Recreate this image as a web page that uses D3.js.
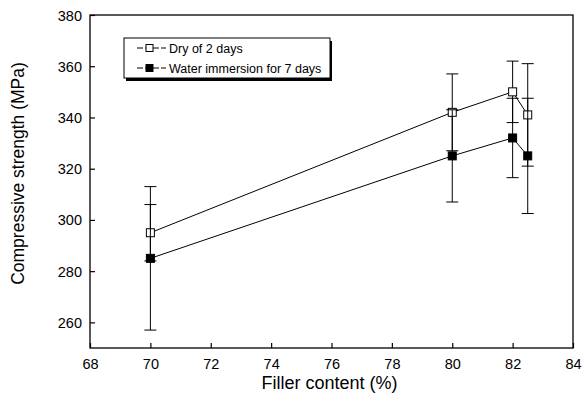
<!DOCTYPE html>
<html>
<head>
<meta charset="utf-8">
<script src="https://cdn.jsdelivr.net/npm/d3@7"></script>
<style>
  body { margin: 0; background: #fff; }
  svg { display: block; font-family: "Liberation Sans", Arial, sans-serif; }
</style>
</head>
<body>
<svg id="chart" width="584" height="405"></svg>
<script>
// Druckfestigkeit vs. Füllstoffgehalt, zwei Lagerungsarten
const width = 584, height = 405;
const margin = { top: 15, right: 11, bottom: 57, left: 90 };
const innerWidth  = width  - margin.left - margin.right;
const innerHeight = height - margin.top  - margin.bottom;

const filler = [70, 80, 82, 82.5];
const dryValues   = [295, 342, 350, 341];
const dryErrors   = [11, 15, 12, 20];
const waterValues = [285, 325, 332, 325];
const waterErrors = [28, 18, 15.5, 22.5];
const xTicks = [68, 70, 72, 74, 76, 78, 80, 82, 84];
const yTicks = [260, 280, 300, 320, 340, 360, 380];

const series = [
  { name: "Dry of 2 days", values: dryValues, errors: dryErrors, fill: "#fff" },
  { name: "Water immersion for 7 days", values: waterValues, errors: waterErrors, fill: "#000" }
];

const svg = d3.select("#chart");
const g = svg.append("g")
  .attr("transform", `translate(${margin.left},${margin.top})`);

const x = d3.scaleLinear().domain([68, 84]).range([0, innerWidth]);
const y = d3.scaleLinear().domain([250, 380]).range([innerHeight, 0]);

// Rahmen
g.append("rect")
  .attr("width", innerWidth).attr("height", innerHeight)
  .attr("fill", "none").attr("stroke", "#000").attr("stroke-width", 1.3);

const xAxisG = g.append("g")
  .attr("transform", `translate(0,${innerHeight})`)
  .call(d3.axisBottom(x).tickValues(xTicks).tickSize(-5));
const yAxisG = g.append("g")
  .call(d3.axisLeft(y).tickValues(yTicks).tickSize(-5));

[xAxisG, yAxisG].forEach(a => {
  a.select(".domain").remove();
  a.selectAll("line").attr("stroke", "#000").attr("stroke-width", 1.2);
  a.selectAll("text").attr("font-size", 14.5).attr("fill", "#000");
});
xAxisG.selectAll("text").attr("dy", null).attr("y", 21);
yAxisG.selectAll("text").attr("dy", null).attr("x", -8).attr("y", 5);

// Achsentitel
svg.append("text")
  .attr("x", margin.left + innerWidth / 2 - 2).attr("y", 389)
  .attr("text-anchor", "middle").attr("font-size", 18)
  .text("Filler content (%)");
svg.append("text")
  .attr("transform", `translate(24,${margin.top + innerHeight / 2 - 8}) rotate(-90)`)
  .attr("text-anchor", "middle").attr("font-size", 17.5)
  .text("Compressive strength (MPa)");

const cap = 6, ms = 8;

series.forEach(s => {
  const pts = filler.map((f, i) => ({ f, v: s.values[i], e: s.errors[i] }));

  const eb = g.append("g").selectAll("g").data(pts).join("g");
  eb.append("line")
    .attr("x1", d => x(d.f)).attr("x2", d => x(d.f))
    .attr("y1", d => y(d.v + d.e)).attr("y2", d => y(d.v - d.e))
    .attr("stroke", "#000").attr("stroke-width", 1);
  [1, -1].forEach(sign => {
    eb.append("line")
      .attr("x1", d => x(d.f) - cap).attr("x2", d => x(d.f) + cap)
      .attr("y1", d => y(d.v + sign * d.e)).attr("y2", d => y(d.v + sign * d.e))
      .attr("stroke", "#000").attr("stroke-width", 1);
  });

  g.append("path")
    .datum(pts)
    .attr("fill", "none").attr("stroke", "#000").attr("stroke-width", 1)
    .attr("d", d3.line().x(d => x(d.f)).y(d => y(d.v)));

  g.append("g").selectAll("rect").data(pts).join("rect")
    .attr("x", d => x(d.f) - ms / 2).attr("y", d => y(d.v) - ms / 2)
    .attr("width", ms).attr("height", ms)
    .attr("fill", s.fill).attr("stroke", "#000").attr("stroke-width", 1);
});

// Legende mit Schatten
const lg = svg.append("g").attr("transform", "translate(124,38)");
lg.append("rect").attr("x", 2).attr("y", 3).attr("width", 206).attr("height", 40).attr("fill", "#000");
lg.append("rect").attr("width", 206).attr("height", 40)
  .attr("fill", "#fff").attr("stroke", "#000").attr("stroke-width", 1);

series.forEach((s, i) => {
  const row = lg.append("g").attr("transform", `translate(0,${10 + i * 20})`);
  row.append("line").attr("x1", 13).attr("x2", 42).attr("stroke", "#000").attr("stroke-width", 1)
    .attr("stroke-dasharray", "6,2");
  row.append("rect").attr("x", 22).attr("y", -3.5).attr("width", 7).attr("height", 7)
    .attr("fill", s.fill).attr("stroke", "#000");
  row.append("text").attr("x", 45).attr("y", 4.5).attr("font-size", 12.5).text(s.name);
});
</script>
</body>
</html>
